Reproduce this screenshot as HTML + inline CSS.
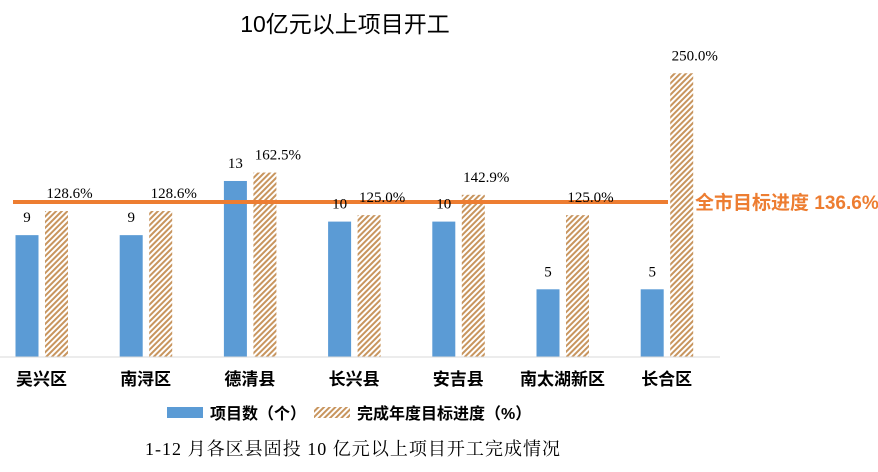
<!DOCTYPE html>
<html><head><meta charset="utf-8">
<style>
body{margin:0;background:#fff;width:878px;height:467px;overflow:hidden}
svg text{font-family:"Liberation Serif","Noto Serif CJK SC",serif}
.b{font-family:"Liberation Sans","Noto Sans CJK SC",sans-serif;font-weight:bold}
</style></head><body>
<svg width="878" height="467">
<defs><pattern id="hatch" patternUnits="userSpaceOnUse" width="4" height="4" patternTransform="rotate(45)">
<rect width="4" height="4" fill="#fff"/><rect width="2" height="4" fill="#c8955e"/></pattern></defs>
<text x="345" y="32" font-size="23" text-anchor="middle" style="font-family:'Liberation Sans','Noto Sans CJK SC',sans-serif">10亿元以上项目开工</text>
<g id="plot"></g>
<line x1="0" y1="357" x2="720" y2="357" stroke="#d9d9d9"/>
<rect x="167" y="407" width="36" height="11" fill="#5b9bd5"/>
<text x="210" y="419" font-size="16" class="b">项目数（个）</text>
<rect x="314" y="407" width="36" height="11" fill="url(#hatch)"/>
<text x="357" y="419" font-size="16" class="b">完成年度目标进度（%）</text>
<text x="145" y="455" font-size="18" textLength="415">1-12 月各区县固投 10 亿元以上项目开工完成情况</text>
</svg>
<script>
const categories=["吴兴区","南浔区","德清县","长兴县","安吉县","南太湖新区","长合区"];
const counts=[9,9,13,10,10,5,5];
const progress=[128.6,128.6,162.5,125.0,142.9,125.0,250.0];
const target=136.6;
const ns="http://www.w3.org/2000/svg";
const g=document.getElementById("plot");
const base=357;
const yCount=v=>base-v*13.54;
const yPct=v=>base-v*1.135;
const xc=i=>41.5+i*104.2;
function mk(t,a){const e=document.createElementNS(ns,t);for(const k in a)e.setAttribute(k,a[k]);g.appendChild(e);return e;}
categories.forEach((c,i)=>{
 const x=xc(i);
 let r=mk("rect",{x:x-26,y:yCount(counts[i]),width:23,height:base-yCount(counts[i]),fill:"#5b9bd5"});
 
 
 let h=mk("rect",{x:x+3.5,y:yPct(progress[i]),width:23,height:base-yPct(progress[i]),fill:"url(#hatch)"});
 
 
});
let ln=mk("line",{x1:13,x2:668,y1:yPct(target),y2:yPct(target),stroke:"#ed7d31","stroke-width":4});


categories.forEach((c,i)=>{
 const x=xc(i);
 let t1=mk("text",{x:x-14.5,y:yCount(counts[i])-13,"font-size":15,"text-anchor":"middle"});t1.textContent=counts[i];
 
 
 let t2=mk("text",{x:x+28,y:yPct(progress[i])-13,"font-size":15,"text-anchor":"middle"});t2.textContent=progress[i].toFixed(1)+"%";
 
 
 let t3=mk("text",{x:x,y:385,"font-size":17,"text-anchor":"middle",class:"b"});t3.textContent=c;
 
 
});
let lt=mk("text",{x:695,y:yPct(target)+7,"font-size":19,fill:"#ed7d31",class:"b"});lt.textContent="全市目标进度 "+target+"%";


</script>
</body></html>
